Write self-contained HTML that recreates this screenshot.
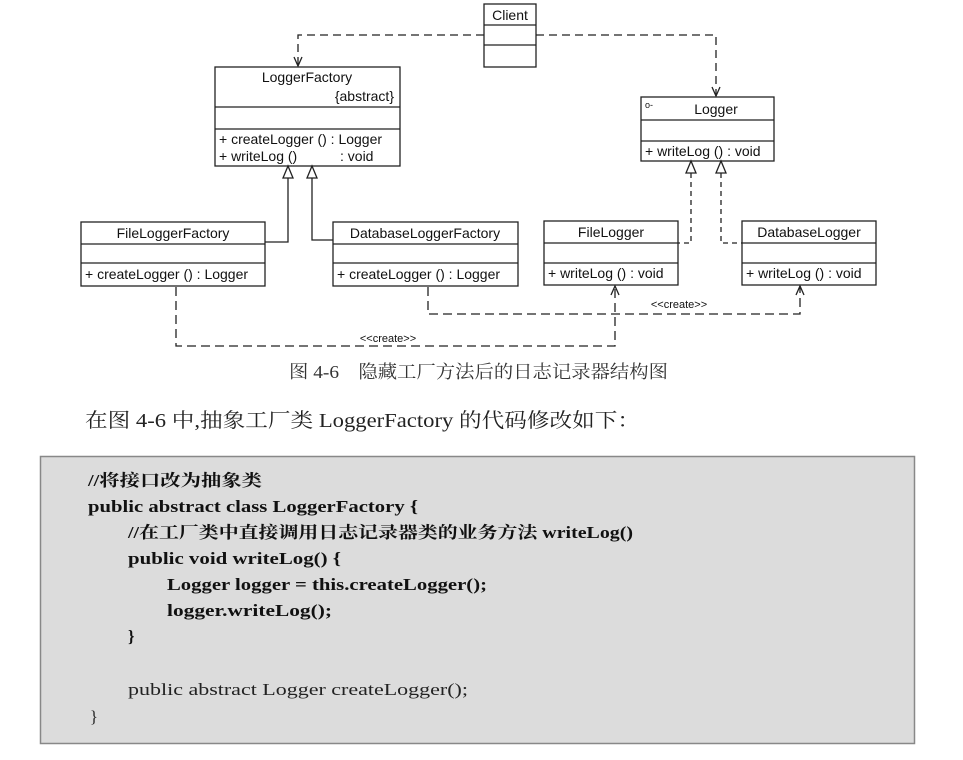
<!DOCTYPE html>
<html><head><meta charset="utf-8"><style>
html,body{margin:0;padding:0;background:#fff;width:963px;height:760px;overflow:hidden}
svg{display:block}
.u{font-family:"Liberation Sans","DejaVu Sans",sans-serif;font-size:14px;fill:#111}
.cd{font-family:"Liberation Serif","Noto Serif CJK SC",serif;font-size:16.5px;font-weight:bold;fill:#111}
.cn{font-family:"Liberation Serif","Noto Serif CJK SC",serif;font-size:16.5px;fill:#222}
</style></head><body>
<svg width="963" height="760" viewBox="0 0 963 760" xmlns="http://www.w3.org/2000/svg">
<g fill="#fff" stroke="#222" stroke-width="1.3">
<rect x="484" y="4" width="52" height="63"/><line x1="484" y1="25" x2="536" y2="25"/><line x1="484" y1="45" x2="536" y2="45"/>
<rect x="215" y="67" width="185" height="99"/><line x1="215" y1="107" x2="400" y2="107"/><line x1="215" y1="129" x2="400" y2="129"/>
<rect x="641" y="97" width="133" height="64"/><line x1="641" y1="120" x2="774" y2="120"/><line x1="641" y1="141" x2="774" y2="141"/>
<rect x="81" y="222" width="184" height="64"/><line x1="81" y1="244" x2="265" y2="244"/><line x1="81" y1="263" x2="265" y2="263"/>
<rect x="333" y="222" width="185" height="64"/><line x1="333" y1="244" x2="518" y2="244"/><line x1="333" y1="263" x2="518" y2="263"/>
<rect x="544" y="221" width="134" height="64"/><line x1="544" y1="243" x2="678" y2="243"/><line x1="544" y1="263" x2="678" y2="263"/>
<rect x="742" y="221" width="134" height="64"/><line x1="742" y1="243" x2="876" y2="243"/><line x1="742" y1="263" x2="876" y2="263"/>
</g>
<g fill="none" stroke="#222" stroke-width="1.3">
<polyline points="484,35 298,35 298,66" stroke-dasharray="8,5"/>
<polyline points="294,57 298,66 302,57"/>
<polyline points="536,35 716,35 716,96" stroke-dasharray="8,5"/>
<polyline points="712,87 716,96 720,87"/>
<polyline points="288,178 288,242 265,242"/>
<polyline points="312,178 312,240 333,240"/>
<polygon points="288,166 283,178 293,178" fill="#fff"/>
<polygon points="312,166 307,178 317,178" fill="#fff"/>
<polyline points="691,173 691,243 678,243" stroke-dasharray="5,4"/>
<polyline points="721,173 721,243 742,243" stroke-dasharray="5,4"/>
<polygon points="691,161 686,173 696,173" fill="#fff"/>
<polygon points="721,161 716,173 726,173" fill="#fff"/>
<polyline points="176,287 176,346 615,346 615,286" stroke-dasharray="9,5"/>
<polyline points="611,295 615,286 619,295"/>
<polyline points="428,287 428,314 800,314 800,286" stroke-dasharray="9,5"/>
<polyline points="796,295 800,286 804,295"/>
</g>
<g class="u">
<text x="510" y="20" text-anchor="middle">Client</text>
<text x="307" y="82" text-anchor="middle">LoggerFactory</text>
<text x="394" y="101" text-anchor="end">{abstract}</text>
<text x="219" y="144">+  createLogger ()  : Logger</text>
<text x="219" y="161">+  writeLog ()</text><text x="340" y="161">: void</text>
<text x="716" y="114" text-anchor="middle">Logger</text>
<text x="645" y="108" font-size="9">o-</text>
<text x="645" y="156">+  writeLog ()  : void</text>
<text x="173" y="238" text-anchor="middle">FileLoggerFactory</text>
<text x="85" y="279">+  createLogger () : Logger</text>
<text x="425" y="238" text-anchor="middle">DatabaseLoggerFactory</text>
<text x="337" y="279">+  createLogger () : Logger</text>
<text x="611" y="237" text-anchor="middle">FileLogger</text>
<text x="548" y="278">+  writeLog () : void</text>
<text x="809" y="237" text-anchor="middle">DatabaseLogger</text>
<text x="746" y="278">+  writeLog () : void</text>
<text x="388" y="342" text-anchor="middle" font-size="11">&lt;&lt;create&gt;&gt;</text>
<text x="679" y="308" text-anchor="middle" font-size="11">&lt;&lt;create&gt;&gt;</text>
</g>
<text x="289" y="378" font-family="'Liberation Serif','Noto Serif CJK SC',serif" font-size="18" fill="#333" textLength="379" lengthAdjust="spacingAndGlyphs">图 4-6　隐藏工厂方法后的日志记录器结构图</text>
<text x="85" y="427" font-family="'Liberation Serif','Noto Serif CJK SC',serif" font-size="20" fill="#222" textLength="555" lengthAdjust="spacingAndGlyphs">在图 4-6 中,抽象工厂类 LoggerFactory 的代码修改如下：</text>
<rect x="40.5" y="456.5" width="874" height="287" fill="#dcdcdc" stroke="#888" stroke-width="1.5"/>
<g>
<text class="cd" x="88" y="486" font-size="18" textLength="174" lengthAdjust="spacingAndGlyphs">//将接口改为抽象类</text>
<text class="cd" x="88" y="512" textLength="330" lengthAdjust="spacingAndGlyphs">public abstract class LoggerFactory {</text>
<text class="cd" x="128" y="538" textLength="505" lengthAdjust="spacingAndGlyphs">//在工厂类中直接调用日志记录器类的业务方法 writeLog()</text>
<text class="cd" x="128" y="564" textLength="213" lengthAdjust="spacingAndGlyphs">public void writeLog() {</text>
<text class="cd" x="167" y="590" textLength="320" lengthAdjust="spacingAndGlyphs">Logger logger = this.createLogger();</text>
<text class="cd" x="167" y="616" textLength="165" lengthAdjust="spacingAndGlyphs">logger.writeLog();</text>
<text class="cd" x="128" y="642">}</text>
<text class="cn" x="128" y="695" textLength="340" lengthAdjust="spacingAndGlyphs">public abstract Logger createLogger();</text>
<text class="cn" x="90" y="722">}</text>
</g>
</svg>
</body></html>
